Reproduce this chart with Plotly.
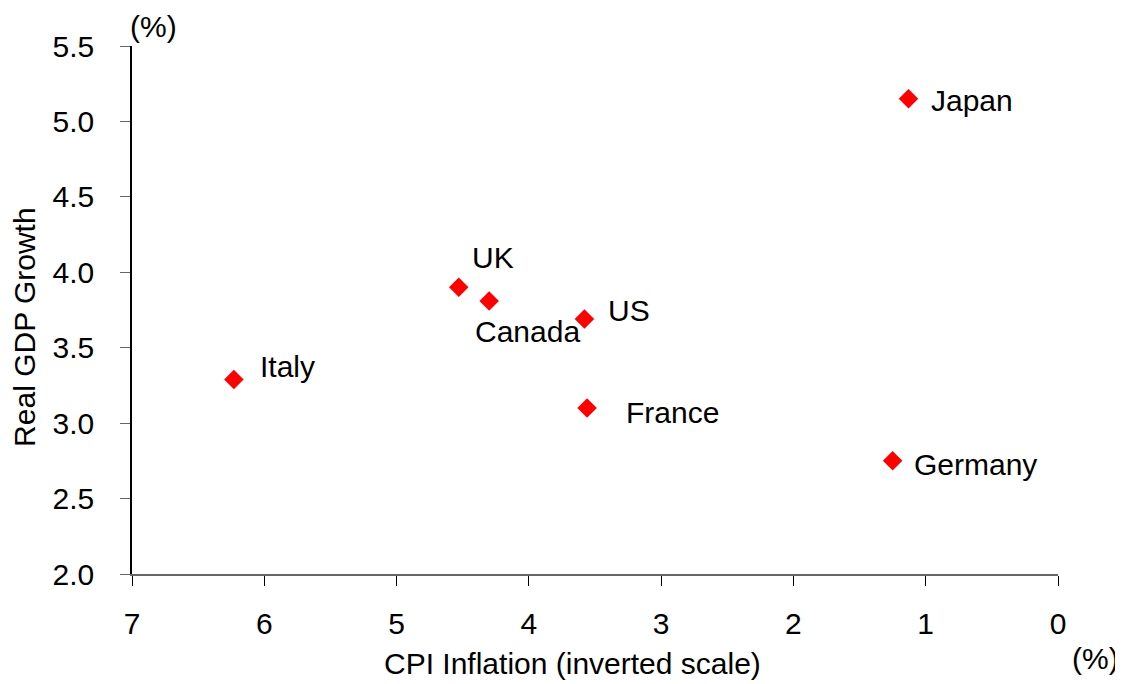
import plotly.graph_objects as go

countries = ["Japan", "UK", "Canada", "US", "Italy", "France", "Germany"]
cpi_inflation = [1.13, 4.53, 4.30, 3.58, 6.23, 3.56, 1.25]
gdp_growth = [5.15, 3.90, 3.81, 3.69, 3.29, 3.10, 2.75]

x_title = "CPI Inflation (inverted scale)"
y_title = "Real GDP Growth"
unit_label = "(%)"

# label offsets in pixels (style)
label_dx = [20, 11, -16, 22, 24, 37, 19]
label_dy = [-2, 30, -31, 9, 13, -4, -4]

FONT = "Liberation Sans, Arial, sans-serif"
FS = 30

fig = go.Figure()
fig.add_trace(go.Scatter(
    x=cpi_inflation, y=gdp_growth, mode="markers",
    marker=dict(symbol="diamond", size=15, color="#FF0000", line=dict(width=0)),
    showlegend=False, hoverinfo="skip"))

for c, xv, yv, dx, dy in zip(countries, cpi_inflation, gdp_growth, label_dx, label_dy):
    fig.add_annotation(x=xv, y=yv, text=c, showarrow=False, xanchor="left",
                       yanchor="middle", xshift=dx, yshift=dy,
                       font=dict(family=FONT, size=FS, color="black"))

fig.add_annotation(xref="paper", yref="paper", x=0, y=1, text=unit_label, showarrow=False,
                   xanchor="left", yanchor="middle", xshift=-4, yshift=20,
                   font=dict(family=FONT, size=FS, color="black"))
fig.add_annotation(xref="paper", yref="paper", x=1, y=0, text=unit_label, showarrow=False,
                   xanchor="left", yanchor="middle", xshift=12, yshift=-84,
                   font=dict(family=FONT, size=FS, color="black"))

# axis titles as annotations for exact placement
fig.add_annotation(xref="paper", yref="paper", x=0.476, y=0, text=x_title, showarrow=False,
                   xanchor="center", yanchor="middle", yshift=-89,
                   font=dict(family=FONT, size=FS, color="black"))
fig.add_annotation(xref="paper", yref="paper", x=0, y=0.468, text=y_title, showarrow=False,
                   textangle=-90, xanchor="center", yanchor="middle", xshift=-107,
                   font=dict(family=FONT, size=FS, color="black"))

fig.update_xaxes(range=[7, 0], tickvals=[7, 6, 5, 4, 3, 2, 1, 0], showgrid=False,
                 zeroline=False, showline=True, linecolor="#666666", linewidth=1.5,
                 ticks="outside", ticklen=10, tickcolor="black", ticklabelstandoff=12,
                 tickfont=dict(family=FONT, size=FS, color="black"))
fig.update_yaxes(range=[2.0, 5.5], tickvals=[2.0, 2.5, 3.0, 3.5, 4.0, 4.5, 5.0, 5.5],
                 tickformat=".1f", showgrid=False, zeroline=False, showline=True,
                 linecolor="black", linewidth=1.5, ticks="outside", ticklen=10,
                 tickcolor="#666666", ticklabelstandoff=20,
                 tickfont=dict(family=FONT, size=FS, color="black"))

fig.update_layout(width=1123, height=684, plot_bgcolor="white", paper_bgcolor="white",
                  margin=dict(l=124, r=73, t=38, b=118), showlegend=False)

fig.write_html("out.html")
